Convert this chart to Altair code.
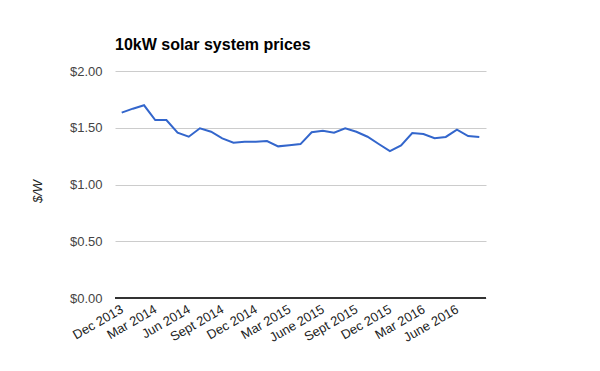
import altair as alt
import pandas as pd

months = [
    "Dec 2013", "Jan 2014", "Feb 2014", "Mar 2014", "Apr 2014", "May 2014",
    "Jun 2014", "Jul 2014", "Aug 2014", "Sept 2014", "Oct 2014", "Nov 2014",
    "Dec 2014", "Jan 2015", "Feb 2015", "Mar 2015", "Apr 2015", "May 2015",
    "June 2015", "Jul 2015", "Aug 2015", "Sept 2015", "Oct 2015", "Nov 2015",
    "Dec 2015", "Jan 2016", "Feb 2016", "Mar 2016", "Apr 2016", "May 2016",
    "June 2016", "Jul 2016", "Aug 2016",
]
prices = [
    1.633, 1.668, 1.698, 1.568, 1.568, 1.456, 1.421, 1.495, 1.465, 1.407,
    1.368, 1.377, 1.377, 1.383, 1.336, 1.345, 1.356, 1.460, 1.474, 1.456,
    1.495, 1.465, 1.421, 1.357, 1.295, 1.345, 1.454, 1.445, 1.407, 1.419,
    1.483, 1.427, 1.419,
]
tick_months = months[::3]
y_ticks = [0, 0.5, 1.0, 1.5, 2.0]

df = pd.DataFrame({"month": months, "price": prices})
FONT = "Liberation Sans"

base = alt.Chart(df)

line = base.mark_line(color="#3366cc", strokeWidth=2).encode(
    x=alt.X(
        "month:O",
        sort=months,
        scale=alt.Scale(type="point", padding=0.6),
        axis=alt.Axis(
            values=tick_months,
            title=None,
            labelAngle=-30,
            labelAlign="right",
            labelBaseline="middle",
            labelPadding=10,
            labelFont=FONT,
            labelFontSize=13,
            labelColor="#222222",
            ticks=False,
            domain=False,
            grid=False,
            labelOverlap=False,
        ),
    ),
    y=alt.Y(
        "price:Q",
        scale=alt.Scale(domain=[0, 2], nice=False, zero=True),
        axis=alt.Axis(
            values=y_ticks,
            format="$.2f",
            title="$/W",
            titleFont=FONT,
            titleFontSize=13,
            titleFontStyle="italic",
            titleFontWeight="normal",
            titleColor="#222222",
            titleAngle=-90,
            titleAlign="center",
            titleBaseline="middle",
            titleX=-78,
            titleY=120,
            labelFont=FONT,
            labelFontSize=13,
            labelColor="#444444",
            labelPadding=13,
            ticks=False,
            tickSize=0,
            domain=False,
            grid=True,
            gridColor="#cccccc",
            gridWidth=1,
        ),
    ),
)

zero_rule = base.mark_rule(color="#333333", strokeWidth=1).encode(
    y=alt.datum(0)
)

chart = (
    alt.layer(line, zero_rule)
    .properties(
        width=371,
        height=227,
        autosize=alt.AutoSizeParams(type="none"),
        padding={"left": 107, "top": 63, "right": 106, "bottom": 65},
        title=alt.TitleParams(
            "10kW solar system prices",
            anchor="start",
            frame="group",
            font=FONT,
            fontSize=16,
            fontWeight="bold",
            color="#000000",
            offset=12,
        ),
    )
    .configure_view(stroke=None)
)

chart.save("out.html", embed_options={"renderer": "svg", "actions": False})
